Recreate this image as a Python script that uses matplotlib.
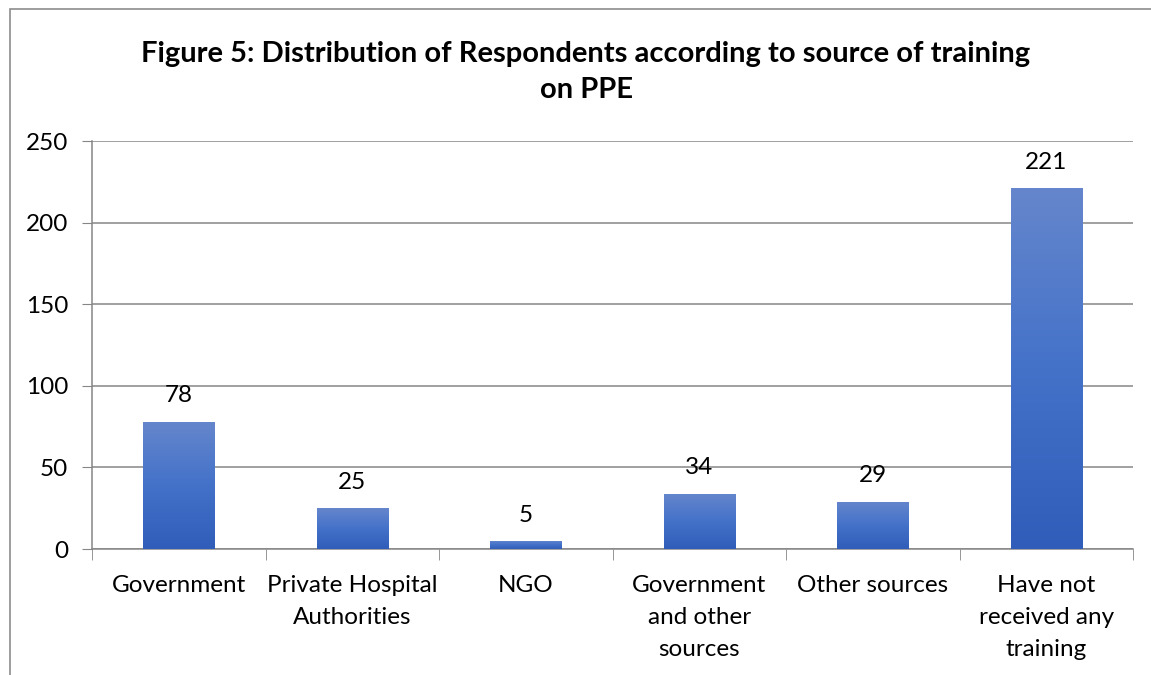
import numpy as np
import matplotlib
matplotlib.use("Agg")
import matplotlib.pyplot as plt
from matplotlib.patches import Rectangle
from matplotlib.colors import LinearSegmentedColormap

categories = ["Government", "Private Hospital\nAuthorities", "NGO",
              "Government\nand other\nsources", "Other sources",
              "Have not\nreceived any\ntraining"]
values = [78, 25, 5, 34, 29, 221]
yticks = [0, 50, 100, 150, 200, 250]
title = "Figure 5: Distribution of Respondents according to source of training\non PPE"

plt.rcParams['font.family'] = ['Lato', 'DejaVu Sans']

W, H = 1151, 675
fig = plt.figure(figsize=(W / 100, H / 100), dpi=100)

# chart frame
fig.patches.append(Rectangle((10 / W, -0.1), 1.2, 1 - 9 / H + 0.1,
                             transform=fig.transFigure, fill=False,
                             edgecolor="#8c8c8c", linewidth=1.2))

ax = fig.add_axes([92 / W, 1 - 549 / H, (1133 - 92) / W, (549 - 141) / H])
x = np.arange(len(categories))
bars = ax.bar(x, values, width=0.41, color="none", zorder=3)

grad = LinearSegmentedColormap.from_list("bar", ["#2f5db9", "#4472c9", "#6586cc"])
g = np.linspace(0, 1, 256).reshape(-1, 1)
for b in bars:
    x0, y0, w, h = b.get_x(), b.get_y(), b.get_width(), b.get_height()
    im = ax.imshow(g, cmap=grad, origin="lower", aspect="auto",
                   extent=(x0, x0 + w, y0, y0 + h), zorder=3)
    im.set_clip_path(b)

for xi, v in zip(x, values):
    ax.annotate(str(v), (xi, v), xytext=(0, 11), textcoords="offset points",
                ha="center", va="bottom", fontsize=17.5)

ax.set_xlim(-0.5, len(categories) - 0.5)
ax.set_ylim(0, 250)
ax.set_yticks(yticks)
ax.set_yticklabels([str(t) for t in yticks], fontsize=17.5)
ax.set_xticks(x)
ax.set_xticklabels(categories, fontsize=17.5, linespacing=1.66)
ax.tick_params(axis="x", length=0, pad=18.5)
ax.tick_params(axis="y", length=7, color="#868686", pad=10)
ax.set_xticks(np.arange(len(categories) + 1) - 0.5, minor=True)
ax.tick_params(axis="x", which="minor", length=8, color="#868686")
ax.grid(axis="y", color="#868686", linewidth=1.1, zorder=0)
ax.set_axisbelow(True)
for s in ["top", "right"]:
    ax.spines[s].set_visible(False)
for s in ["left", "bottom"]:
    ax.spines[s].set_color("#868686")
    ax.spines[s].set_linewidth(1.1)

fig.text(586 / W, 1 - 72 / H, title, ha="center", va="center",
         fontsize=21, fontweight="bold", linespacing=1.5)

fig.savefig("out.png", dpi=100, facecolor="white")
